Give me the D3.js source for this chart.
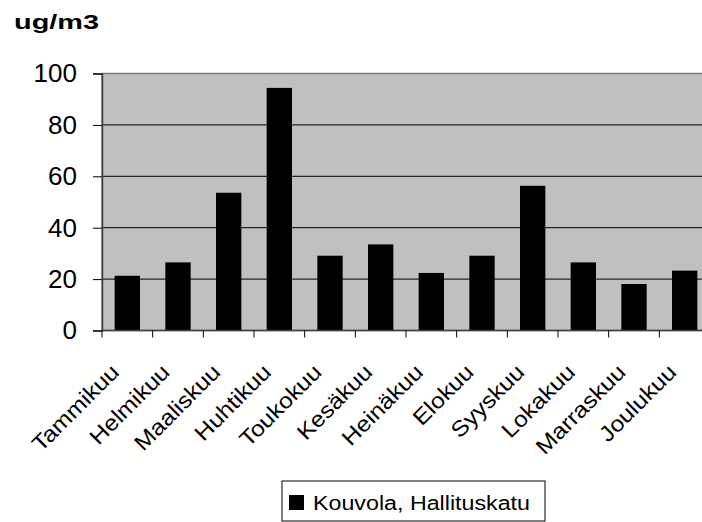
<!DOCTYPE html>
<html lang="fi">
  <head>
    <meta charset="UTF-8" />
    <script src="https://d3js.org/d3.v7.min.js"></script>
    <title>ug/m3</title>
    <style>
      body { margin: 0; background: #fff; }
      svg { display: block; font-family: "Liberation Sans", Arial, sans-serif; }
    </style>
  </head>
  <body>
    <svg id="chart" width="702" height="522"></svg>
    <script>
      const months = ["Tammikuu", "Helmikuu", "Maaliskuu", "Huhtikuu", "Toukokuu", "Kesäkuu",
        "Heinäkuu", "Elokuu", "Syyskuu", "Lokakuu", "Marraskuu", "Joulukuu"];
      const values = [21.3, 26.5, 53.6, 94.4, 29.1, 33.5, 22.4, 29.1, 56.3, 26.5, 18.1, 23.3];
      const yTicks = [0, 20, 40, 60, 80, 100];
      const seriesName = "Kouvola, Hallituskatu";
      const unit = "ug/m3";

      const svg = d3.select("#chart");
      const plot = { left: 102, top: 73.5, right: 710, bottom: 330.5 };

      const x = d3.scaleBand().domain(months).range([plot.left, plot.right]).paddingInner(0.5).paddingOuter(0.25);
      const y = d3.scaleLinear().domain([0, 100]).range([plot.bottom, plot.top]);

      // plot background
      svg.append("rect")
        .attr("x", plot.left).attr("y", plot.top)
        .attr("width", plot.right - plot.left).attr("height", plot.bottom - plot.top)
        .attr("fill", "#c0c0c0").attr("stroke", "#808080").attr("stroke-width", 1.5);

      // gridlines
      svg.append("g").selectAll("line")
        .data(yTicks.filter(d => d > 0 && d < 100))
        .join("line")
        .attr("x1", plot.left).attr("x2", plot.right)
        .attr("y1", d => y(d)).attr("y2", d => y(d))
        .attr("stroke", "#000").attr("stroke-width", 1);

      // bars
      svg.append("g").selectAll("rect")
        .data(values)
        .join("rect")
        .attr("x", (d, i) => x(months[i]))
        .attr("y", d => y(d))
        .attr("width", x.bandwidth())
        .attr("height", d => y(0) - y(d))
        .attr("fill", "#000");

      // y axis
      const yAxis = svg.append("g")
        .attr("transform", `translate(${plot.left},0)`)
        .call(d3.axisLeft(y).tickValues(yTicks).tickSize(9).tickPadding(16));
      yAxis.select(".domain").attr("stroke", "#404040").attr("stroke-width", 1.5);
      yAxis.selectAll(".tick line").attr("stroke", "#000");
      yAxis.selectAll("text").attr("font-size", 26).attr("fill", "#000")
        .attr("font-family", "Liberation Sans, Arial, sans-serif");

      // x axis with ticks at band boundaries
      const bounds = d3.range(months.length + 1).map(i => plot.left + i * (plot.right - plot.left) / months.length);
      svg.append("line")
        .attr("x1", plot.left).attr("x2", plot.right)
        .attr("y1", plot.bottom).attr("y2", plot.bottom)
        .attr("stroke", "#404040").attr("stroke-width", 1.5);
      svg.append("g").selectAll("line")
        .data(bounds)
        .join("line")
        .attr("x1", d => d).attr("x2", d => d)
        .attr("y1", plot.bottom).attr("y2", plot.bottom + 7)
        .attr("stroke", "#000");

      svg.append("g").selectAll("text")
        .data(months)
        .join("text")
        .attr("transform", d => `translate(${x(d) + x.bandwidth() / 2 - 7},${plot.bottom + 43}) rotate(-45) scale(1.12,1)`)
        .attr("text-anchor", "end")
        .attr("font-size", 22)
        .text(d => d);

      // unit label
      svg.append("text")
        .attr("x", 14).attr("y", 29)
        .attr("font-size", 21).attr("font-weight", "bold")
        .attr("textLength", 85).attr("lengthAdjust", "spacingAndGlyphs")
        .text(unit);

      // legend
      const legend = svg.append("g");
      legend.append("rect")
        .attr("x", 282).attr("y", 481).attr("width", 263).attr("height", 40)
        .attr("fill", "#fff").attr("stroke", "#000").attr("stroke-width", 1);
      legend.append("rect")
        .attr("x", 289).attr("y", 495).attr("width", 15).attr("height", 15)
        .attr("fill", "#000");
      legend.append("text")
        .attr("x", 313).attr("y", 510)
        .attr("font-size", 20)
        .attr("textLength", 217).attr("lengthAdjust", "spacingAndGlyphs")
        .text(seriesName);
    </script>
  </body>
</html>
